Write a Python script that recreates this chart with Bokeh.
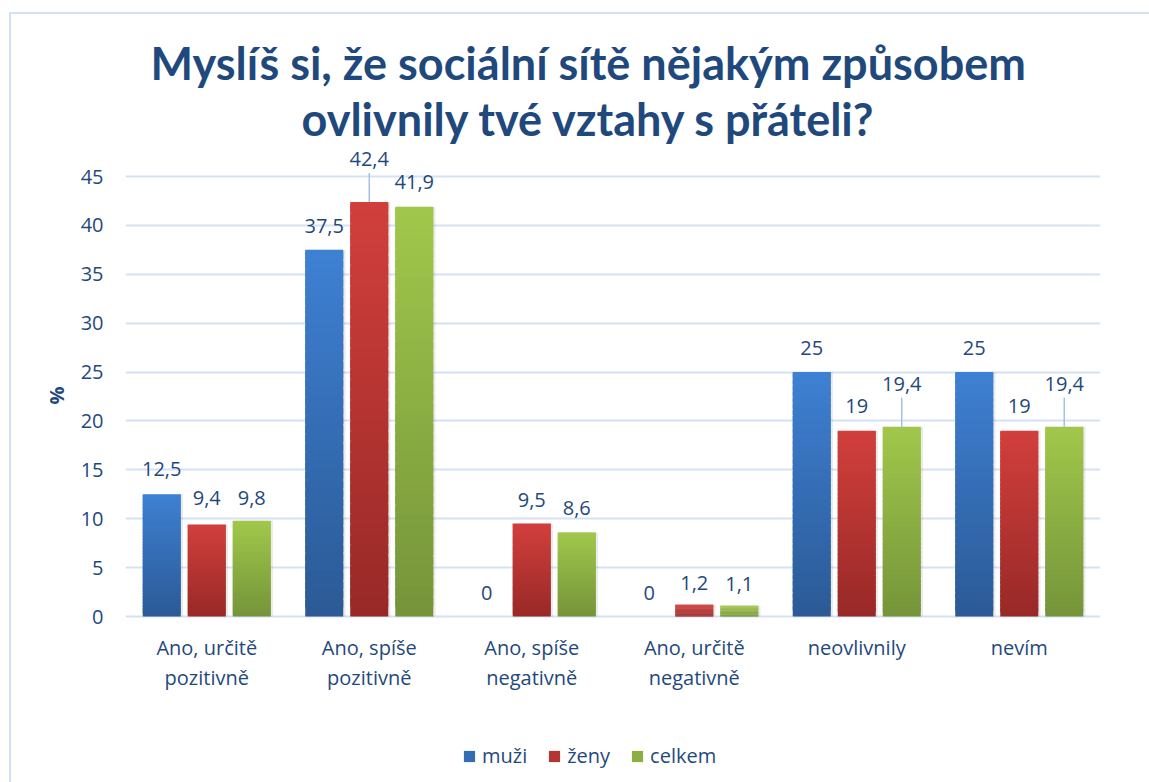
from bokeh.plotting import figure
from bokeh.models import (ColumnDataSource, FactorRange, LabelSet, Legend, Title,
                          LegendItem, Arrow, FixedTicker, LinearAxis)
from bokeh.transform import dodge
from bokeh.core.properties import value
from bokeh.embed import file_html
from bokeh.resources import INLINE

# ---------------- data ----------------
categories = ["Ano, určitě\npozitivně", "Ano, spíše\npozitivně", "Ano, spíše\nnegativně",
              "Ano, určitě\nnegativně", "neovlivnily", "nevím"]
muzi = [12.5, 37.5, 0, 0, 25, 25]
zeny = [9.4, 42.4, 9.5, 1.2, 19, 19]
celkem = [9.8, 41.9, 8.6, 1.1, 19.4, 19.4]
series_names = ["muži", "ženy", "celkem"]
label_texts = {
    "muži": ["12,5", "37,5", "0", "0", "25", "25"],
    "ženy": ["9,4", "42,4", "9,5", "1,2", "19", "19"],
    "celkem": ["9,8", "41,9", "8,6", "1,1", "19,4", "19,4"],
}
y_ticks = [0, 5, 10, 15, 20, 25, 30, 35, 40, 45]
y_title = "%"
title_lines = ["Myslíš si, že sociální sítě nějakým způsobem", "ovlivnily tvé vztahy s přáteli?"]

# ---------------- style ----------------
TXT = "#1F497D"
FONT = "Open Sans"
GRID = "#D6E2F3"
BORDER = "#D3E0F2"
grad = {
    "muži": ("#3E80D3", "#2B5A95"),
    "ženy": ("#D23F3C", "#982927"),
    "celkem": ("#A1C84B", "#75943A"),
}
offsets = {"muži": -0.277, "ženy": 0.0, "celkem": 0.277}
BAR_W = 0.234
# label lift (px) above bar top; larger ones get a leader line
lift = {
    "muži": [25, 24, 24, 24, 24, 24],
    "ženy": [27, 43, 24, 22, 25, 25],
    "celkem": [23, 25, 24, 22, 43, 43],
}

W, H = 1149, 782
FL, FR, FT = 125, 1100, 144
Y0_PX, Y45_PX = 616, 176          # pixel rows of the 0 and 45 gridlines
PPU = (Y0_PX - Y45_PX) / 45.0
YMAX = (Y0_PX - FT) / PPU
YMIN = -(H - Y0_PX) / PPU
PCT_POS = (Y0_PX - 395) / PPU       # where the rotated "%" sits

p = figure(x_range=FactorRange(*categories), y_range=(YMIN, YMAX), width=W, height=H,
           output_backend="svg", toolbar_location=None,
           min_border_left=FL, min_border_right=W - FR, min_border_top=FT,
           min_border_bottom=0)
p.outline_line_color = None
p.background_fill_color = "white"
p.border_fill_color = None
p.styles = {
    "background": (f"linear-gradient({BORDER},{BORDER}) 9px 12px/2px 3000px no-repeat, "
                   f"linear-gradient({BORDER},{BORDER}) 9px 12px/3000px 2px no-repeat, white")
}
p.xaxis.visible = False


def hex2rgb(h):
    return tuple(int(h[i:i + 2], 16) for i in (1, 3, 5))


def mix(c1, c2, t):
    a, b = hex2rgb(c1), hex2rgb(c2)
    return "#%02x%02x%02x" % tuple(int(round(a[i] + (b[i] - a[i]) * t)) for i in range(3))


N = 40
legend_items = []
for name, vals in zip(series_names, [muzi, zeny, celkem]):
    top_c, bot_c = grad[name]
    cats, bots, tops, cols = [], [], [], []
    for c, v in zip(categories, vals):
        if v <= 0:
            continue
        for k in range(N):
            cats.append(c)
            bots.append(v * k / N)
            tops.append(min(v, v * (k + 1.8) / N))
            cols.append(mix(bot_c, top_c, (k + 0.5) / N))
    # soft shadow
    sh = ColumnDataSource(dict(cat=[c for c, v in zip(categories, vals) if v > 0],
                               top=[v for v in vals if v > 0]))
    p.vbar(x=dodge("cat", offsets[name] + 0.014, range=p.x_range), top="top", bottom=0,
           width=BAR_W, source=sh, fill_color="#000000", fill_alpha=0.08, line_color=None)
    src = ColumnDataSource(dict(cat=cats, bottom=bots, top=tops, color=cols))
    r = p.vbar(x=dodge("cat", offsets[name], range=p.x_range), top="top", bottom="bottom",
               width=BAR_W, source=src, fill_color="color", line_color=None)
    legend_items.append(LegendItem(label=name, renderers=[r], index=N // 2))

    # data labels
    lsrc = ColumnDataSource(dict(cat=categories, val=vals, text=label_texts[name],
                                 off=lift[name]))
    p.add_layout(LabelSet(x=dodge("cat", offsets[name], range=p.x_range), y="val", text="text",
                          y_offset="off", source=lsrc, text_align="center",
                          text_baseline="middle", text_font=value(FONT),
                          text_font_size=value("20px"), text_color=TXT))
    # leader lines
    lead_src = ColumnDataSource(dict(
        cat=[c for c, o in zip(categories, lift[name]) if o > 35],
        y0=[v for v, o in zip(vals, lift[name]) if o > 35],
        y1=[v + (o - 14) / PPU for v, o in zip(vals, lift[name]) if o > 35]))
    p.add_layout(Arrow(start=None, end=None,
                       x_start=dodge("cat", offsets[name], range=p.x_range), y_start="y0",
                       x_end=dodge("cat", offsets[name], range=p.x_range), y_end="y1",
                       source=lead_src, line_color="#A6C1E4", line_width=1.5))

# category labels (two lines) under the baseline
first = [c.split("\n")[0] for c in categories]
second = [c.split("\n")[1] if "\n" in c else "" for c in categories]
csrc = ColumnDataSource(dict(cat=categories, zero=[0] * len(categories), l1=first, l2=second))
for col, off in (("l1", -31), ("l2", -61)):
    p.add_layout(LabelSet(x="cat", y="zero", text=col, y_offset=off, source=csrc,
                          text_align="center", text_baseline="middle",
                          text_font=value(FONT), text_font_size=value("20px"),
                          text_color=TXT))

# y axis & grid
p.yaxis.ticker = FixedTicker(ticks=y_ticks)
p.ygrid.grid_line_color = GRID
p.ygrid.grid_line_width = 2
p.xgrid.grid_line_color = None


def style_axis(ax):
    ax.axis_line_color = None
    ax.major_tick_line_color = None
    ax.minor_tick_line_color = None
    ax.major_tick_out = 0
    ax.major_tick_in = 0
    ax.minor_tick_out = 0
    ax.major_label_text_font = FONT
    ax.major_label_text_font_size = "20px"
    ax.major_label_text_color = TXT


style_axis(p.yaxis[0])
p.yaxis[0].major_label_standoff = 22

pct_axis = LinearAxis(ticker=FixedTicker(ticks=[PCT_POS]),
                      major_label_overrides={PCT_POS: y_title},
                      major_label_orientation="vertical")
style_axis(pct_axis)
pct_axis.major_label_text_font_style = "bold"
pct_axis.major_label_standoff = 8
p.add_layout(pct_axis, "left")

# title (two lines; the later one added sits higher)
p.add_layout(Title(text=title_lines[1], align="left", offset=176, standoff=-3,
                   text_font="Lato", text_font_style="bold", text_font_size="45px",
                   text_color=TXT), "above")
p.add_layout(Title(text=title_lines[0], align="left", offset=25, standoff=4,
                   text_font="Lato", text_font_style="bold", text_font_size="45px",
                   text_color=TXT), "above")

legend = Legend(items=legend_items, orientation="horizontal", location=(337, 13),
                label_text_font=FONT, label_text_font_size="20px", label_text_color=TXT,
                glyph_width=14, glyph_height=14, label_height=20, label_standoff=6,
                spacing=20, padding=0, margin=0, border_line_color=None,
                background_fill_alpha=0)
p.add_layout(legend, "center")

open("out.html", "w").write(file_html(p, INLINE))
